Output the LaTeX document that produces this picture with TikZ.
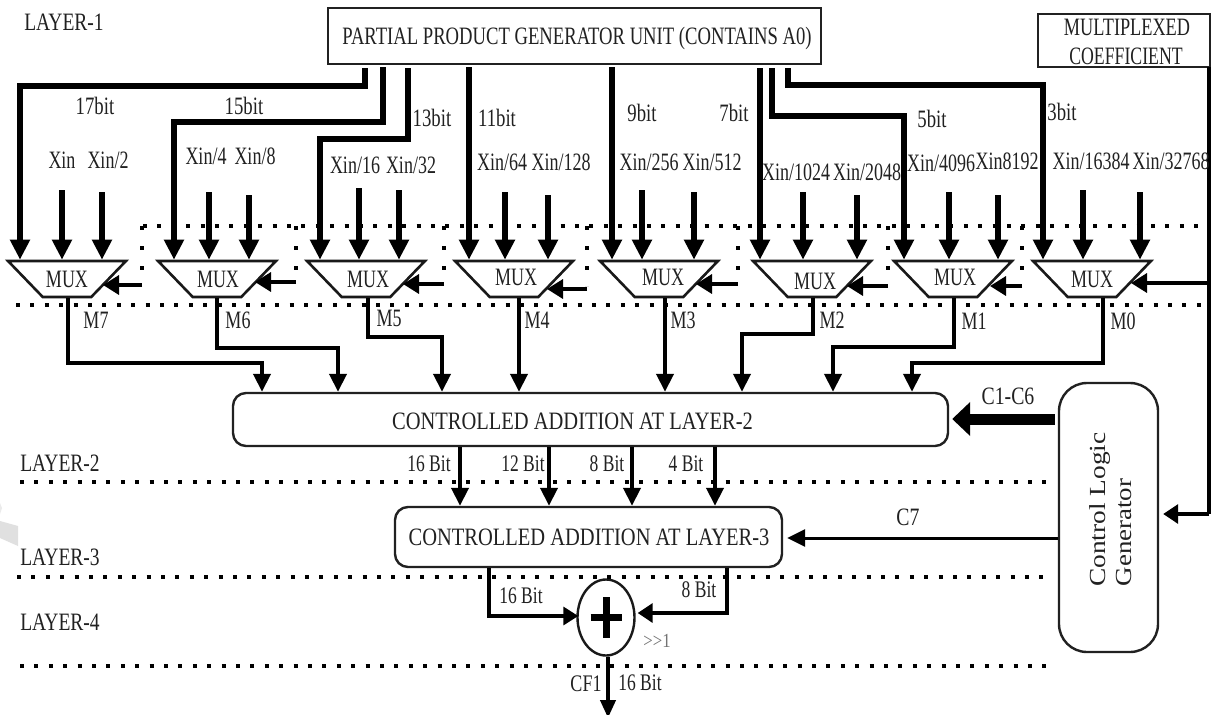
\documentclass[tikz,border=0pt]{standalone}
\usepackage{graphicx}
\usepackage{fontspec}
\setmainfont{Liberation Serif}
\usetikzlibrary{arrows.meta,shapes.geometric,calc}
\newcommand\sxy[3]{\scalebox{#1}[#2]{#3}}
\definecolor{ink}{gray}{0.13}
\tikzset{
  lbl/.style={inner sep=0pt,anchor=base,yshift=-8pt,font=\fontsize{25}{28}\selectfont,text=ink},
  blockbox/.style={draw=ink,line width=2.4pt,rounded corners=13pt,inner sep=0pt},
  plainbox/.style={draw=ink,line width=2.4pt,inner sep=0pt},
  muxbox/.style={draw=black!90,line width=2.6pt,trapezium,trapezium stretches=true,trapezium left angle=45.8,trapezium right angle=45.8,shape border rotate=180,minimum width=118pt,minimum height=36pt,inner sep=0pt},
  bus/.style={line width=5.2pt,-{Triangle[length=20pt,width=19pt]}},
  wire/.style={line width=4pt,-{Triangle[length=18pt,width=17pt]}},
  sel/.style={line width=3.4pt,-{Triangle[length=16pt,width=19pt]}},
  dotline/.style={line width=4pt,dash pattern=on 4pt off 10.4pt},
  dotvert/.style={line width=4pt,dash pattern=on 4pt off 16pt},
}
\begin{document}
\begin{tikzpicture}[x=1pt,y=-1pt]
\fill[white] (0,0) rectangle (1211,715);
\useasboundingbox (0,0) rectangle (1211,715);
% faint mark at the left edge
\fill[black!12] (0,521) -- (18,526) -- (18,546) -- (0,538) -- cycle;
\fill[black!8] (0,503) -- (2,508) -- (0,514) -- cycle;

% boxes
\node[plainbox,minimum width=493pt,minimum height=56pt] (ppg) at (574.5,36) {};
\node[lbl] (ppgt) at (577,36) {\sxy{.746}{1}{PARTIAL PRODUCT GENERATOR UNIT (CONTAINS A0)}};
\node[plainbox,minimum width=172pt,minimum height=53pt] (coef) at (1124,40.5) {};
\node[lbl] (coeft1) at (1127,27) {\sxy{.73}{1}{MULTIPLEXED}};
\node[lbl] (coeft2) at (1126,56) {\sxy{.71}{1}{COEFFICIENT}};
\node[blockbox,minimum width=715pt,minimum height=53pt] (l2) at (590.5,419.5) {};
\node[lbl] (l2t) at (572.5,421) {\sxy{.82}{1}{CONTROLLED ADDITION AT LAYER-2}};
\node[blockbox,minimum width=387pt,minimum height=60pt] (l3) at (588.5,537) {};
\node[lbl] (l3t) at (589,537) {\sxy{.82}{1}{CONTROLLED ADDITION AT LAYER-3}};
\node[draw=ink,line width=2.4pt,rounded corners=28pt,minimum width=99pt,minimum height=269pt,inner sep=0pt] (ctl) at (1108.5,517.5) {};
\node[inner sep=0pt,rotate=90,font=\fontsize{23}{25}\selectfont,text=ink] (ctlt1) at (1100,509.5) {\sxy{1.19}{1}{Control Logic}};
\node[inner sep=0pt,rotate=90,font=\fontsize{23}{25}\selectfont,text=ink] (ctlt2) at (1124,532.5) {\sxy{1.17}{1}{Generator}};
\node[draw=black!90,line width=2.4pt,ellipse,minimum width=57pt,minimum height=76pt,inner sep=0pt] (add) at (606,617.5) {};
\draw[line width=7pt] ($(add.center)+(-15.5,0)$) -- ($(add.center)+(15.5,0)$);
\draw[line width=7pt] ($(add.center)+(0,-20.5)$) -- ($(add.center)+(0,20.5)$);

% muxes
\foreach \n/\l/\tx/\ty in {m7/8/67/279,m6/158/218/279,m5/307/368/279,m4/455/516/277,m3/600/663/277,m2/753/815/281,m1/894/955/277,m0/1033/1092/279}{
  \node[muxbox] (\n) at (\l+59,279) {\phantom{M}};
  \node[lbl] (\n t) at (\tx,\ty) {\sxy{.72}{1}{MUX}};
}

% dotted lines
\coordinate (dt0) at (143,226); \coordinate (dt1) at (1207,226);
\coordinate (db0) at (16,305);  \coordinate (db1) at (1203,305);
\draw[dotline] (dt0) -- (dt1);
\draw[dotline] (db0) -- (db1);
\coordinate (da0) at (20,482); \coordinate (da1) at (1047,482);
\coordinate (dc0) at (17,577); \coordinate (dc1) at (1047,577);
\coordinate (dd0) at (20,666); \coordinate (dd1) at (1047,666);
\draw[dotline] (da0) -- (da1);
\draw[dotline] (dc0) -- (dc1);
\draw[dotline] (dd0) -- (dd1);

% select lines between the muxes
\foreach \n/\x/\y in {m7/142/285,m6/296/282,m5/444/284,m4/587/289,m3/738/284,m2/888/286,m1/1022/286}{
  \coordinate (v\n t) at (\x,226);
  \coordinate (v\n b) at (\x,\y);
  \draw[dotvert] (v\n t) -- (\x,\y-3);
}
\foreach \n/\r/\x/\y in {m7/103/142/285,m6/255/296/282,m5/403/444/284,m4/547/587/289,m3/696/738/284,m2/847/888/286,m1/990/1022/286}{
  \coordinate (e\n) at (\r,\y);
  \draw[sel] (v\n b) -- (e\n);
}
\coordinate (em0) at (1131,283);

% input arrows
\foreach \n/\x/\t in {m7/62/190,m7/102/192,m6/209/192,m6/249/195,m5/359/188,m5/399/190,m4/505/192,m4/548/195,m3/642/190,m3/694/192,m2/803/192,m2/857/195,m1/949/192,m1/998/195,m0/1083/190,m0/1140/192}{
  \coordinate (in\x) at (\x,\t);
  \draw[bus] (in\x) -- (\x,0 |- \n.north);
}

% partial product buses
\draw[bus] ([xshift=-209.5pt,yshift=-3pt]ppg.south) |- (20,86) -- (20,0 |- m7.north);
\draw[bus] ([xshift=-191.5pt,yshift=-2pt]ppg.south) |- (174,122) -- (174,0 |- m6.north);
\draw[bus] ([xshift=-166.5pt,yshift=-3pt]ppg.south) |- (320,139) -- (320,0 |- m5.north);
\draw[bus] ([xshift=-105.5pt,yshift=-2pt]ppg.south) -- (469,0 |- m4.north);
\draw[bus] ([xshift=37.5pt,yshift=-2pt]ppg.south) -- (612,0 |- m3.north);
\draw[bus] ([xshift=185.5pt,yshift=-3pt]ppg.south) -- (760,0 |- m2.north);
\draw[bus] ([xshift=197.5pt,yshift=-3pt]ppg.south) |- (904,116) -- (904,0 |- m1.north);
\draw[bus] ([xshift=213.5pt,yshift=-3pt]ppg.south) |- (1043,85) -- (1043,0 |- m0.north);

% mux outputs
\draw[wire] (68,0 |- m7.south) |- (262,363) -- (262,0 |- l2.north);
\draw[wire] (217,0 |- m6.south) |- (338,348) -- (338,0 |- l2.north);
\draw[wire] (368,0 |- m5.south) |- (442,337) -- (442,0 |- l2.north);
\draw[wire] (519,0 |- m4.south) -- (519,0 |- l2.north);
\draw[wire] (665,0 |- m3.south) -- (665,0 |- l2.north);
\draw[wire] (813,0 |- m2.south) |- (742,334) -- (742,0 |- l2.north);
\draw[wire] (954,0 |- m1.south) |- (833,347) -- (833,0 |- l2.north);
\draw[wire] (1103,0 |- m0.south) |- (912,363) -- (912,0 |- l2.north);

% layer 2 to layer 3
\foreach \x in {460,549,632,715}{
  \draw[wire] (\x,0 |- l2.south) -- (\x,0 |- l3.north);
}

% control
\draw[line width=11pt,-{Triangle[length=18pt,width=33pt]}] ([xshift=-3pt]ctl.west |- 0,419) -- ([xshift=3pt]l2.east |- 0,419);
\draw[line width=3pt,-{Triangle[length=18pt,width=17pt]}] (ctl.west |- 0,538) -- ([xshift=4pt]l3.east |- 0,538);
\coordinate (cs) at (1209,67);
\coordinate (cc) at (1209,514);
\draw[line width=3.4pt] (cs) -- (cc);
\draw[line width=3.4pt,-{Triangle[length=15pt,width=19pt]}] (cc) -- ([xshift=4pt]ctl.east |- cc);
\coordinate (cm) at (1209,283);
\draw[sel] (cm) -- (em0);

% adder
\draw[line width=3.4pt,-{Triangle[length=15pt,width=18pt]}] (489,0 |- l3.south) |- ([xshift=2pt]add.west |- 0,616);
\draw[line width=3.4pt,-{Triangle[length=15pt,width=19pt]}] (727,0 |- l3.south) |- ([xshift=2pt]add.east |- 0,613);
\coordinate (outend) at (608,718);
\draw[line width=4pt,-{Triangle[length=18pt,width=15pt]}] ([xshift=2pt]add.south) -- (outend);

% labels
\foreach \t/\x/\y in {LAYER-1/64/22,LAYER-2/60/463,LAYER-3/60/557,LAYER-4/60/622}{
  \node[lbl] at (\x,\y) {\sxy{.78}{1}{\t}};
}
\foreach \t/\x/\y in {17bit/95/106,15bit/244/106,13bit/432/118,11bit/497/118,9bit/642/113,7bit/734/113,5bit/932/119,3bit/1062/112}{
  \node[lbl] at (\x,\y) {\sxy{.75}{1}{\t}};
}
\foreach \t/\x/\y in {Xin/62/160,Xin\slash2/108/160,Xin\slash4/206/156,Xin\slash8/255/156,Xin\slash16/355/165,Xin\slash32/411/165,
 Xin\slash64/502/162,Xin\slash128/561/162,Xin\slash256/649/162,Xin\slash512/712/162,Xin\slash1024/796/172,Xin\slash2048/867/172,
 Xin\slash4096/941/163,Xin8192/1007/161,Xin\slash16384/1091/161,Xin\slash32768/1171/161,
 M7/96/320,M6/238/320,M5/389/318,M4/537/320,M3/683/320,M2/832/320,M1/974/321,M0/1123/321}{
  \node[lbl] at (\x,\y) {\sxy{.72}{1}{\t}};
}
\foreach \t/\x/\y in {C1-C6/1008/396,C7/908/517}{
  \node[lbl] at (\x,\y) {\sxy{.79}{1}{\t}};
}
\foreach \t/\x/\y in {16 Bit/429/463,12 Bit/523/463,8 Bit/607/463,4 Bit/686/463,16 Bit/521/595,8 Bit/699/589,16 Bit/640/682}{
  \node[lbl] at (\x,\y) {\sxy{.7}{.95}{\t}};
}
\node[lbl] (cf) at (586,683) {\sxy{.72}{.95}{CF1}};
\node[lbl,text=black!55] (shr) at (657,639) {\sxy{.67}{.8}{{>}{>}1}};
\end{tikzpicture}
\end{document}
